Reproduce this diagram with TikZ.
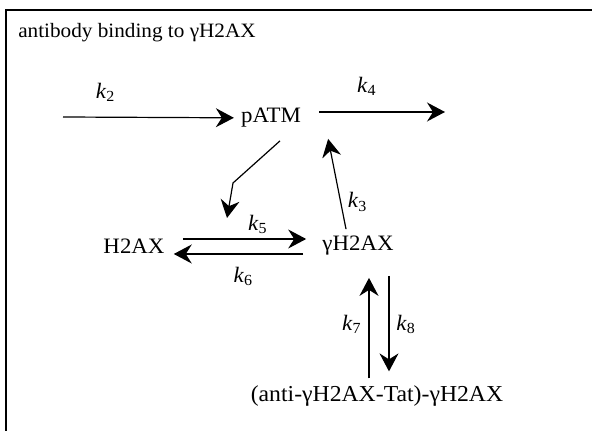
\documentclass[tikz,border=0pt]{standalone}
\usepackage{fontspec}
\setmainfont{Liberation Serif}[FakeStretch=1.04]
\usetikzlibrary{arrows.meta,positioning}
\newcommand{\rate}[1]{\textit{k}\textsubscript{#1}}

\begin{document}
\begin{tikzpicture}[x=0.5pt,y=-0.5pt,font=\fontsize{11}{13}\selectfont,
    >={Stealth[length=9pt,width=9.5pt,inset=3pt]},line width=0.6pt]
    \useasboundingbox (0,0) rectangle (592,431);
    \draw [line width=1.1pt] (6,431) |- (592,10);
    \path
        (11,33)   node [anchor=west,font=\fontsize{10.2}{12}\selectfont]  (title) {antibody binding to γH2AX}
        (271,118) node (patm) {pATM}
        (134,246) node (h2ax) {H2AX}
        (358,246) node (gh2ax) {γH2AX}
        (377,396) node [font=\fontsize{11.4}{13}\selectfont] (cplx) {(anti-γH2AX-Tat)-γH2AX}
        (63,117)  coordinate (in)
        (445,112) coordinate (out)
        (233,183) coordinate (bend)
        (227,218) coordinate (cat)
        ;
    \draw [->] (in) -- node [above,pos=.25,yshift=4pt]{\rate{2}}(patm);
    \draw [->,shorten <=5.5pt] (patm.east |- out) -- node [above,pos=.43,yshift=4.5pt]{\rate{4}}(out);
    \draw [->] ([xshift=4.5pt,yshift=-3pt]patm.south) -- (bend) -- (cat);
    \draw [->] ([xshift=-6pt]gh2ax.north) -- node [right,pos=.3]{\rate{3}}([xshift=10pt,yshift=-2pt]patm.south east);
    \draw [->,shorten <=5.5pt,shorten >=4.5pt] ([yshift=3.5pt]h2ax.east) -- node [above,pos=.6,yshift=-1pt]{\rate{5}}([yshift=3.5pt]gh2ax.west);
    \draw [->,shorten <=6pt,shorten >=1pt] ([yshift=-4pt]gh2ax.west) -- node [below,pos=.5,yshift=-3pt]{\rate{6}}([yshift=-4pt]h2ax.east);
    \draw [->,shorten >=7.5pt] ([xshift=-4pt]cplx.north) -- node [left,pos=.5,yshift=-2pt]{\rate{7}}([xshift=-4pt]cplx.north |- gh2ax.south);
    \draw [->,shorten <=6.5pt,shorten >=3.5pt] ([xshift=6pt]cplx.north |- gh2ax.south) -- node [right,pos=.5,yshift=-2pt]{\rate{8}}([xshift=6pt]cplx.north);
\end{tikzpicture}
\end{document}
